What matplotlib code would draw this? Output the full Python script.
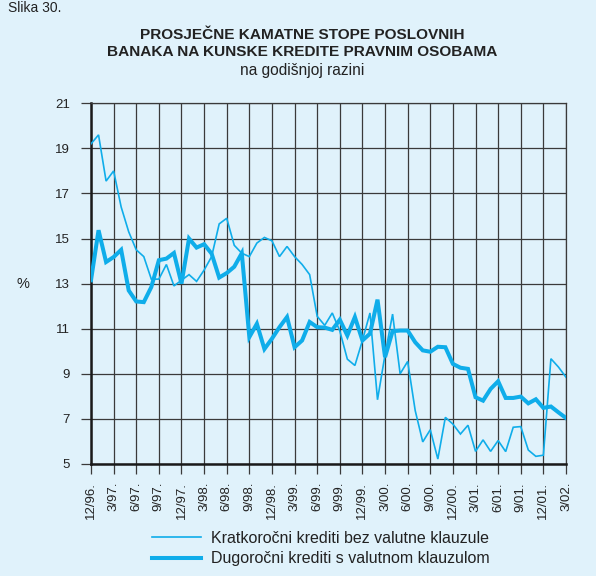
import numpy as np
import matplotlib
matplotlib.use('Agg')
import matplotlib.pyplot as plt

# monthly data, 12/96 .. 3/02
kratkorocni = [19.2, 19.6, 17.55, 18.0, 16.4, 15.3, 14.5, 14.2, 13.2, 13.2,
               13.85, 12.9, 13.15, 13.4, 13.1, 13.6, 14.2, 15.65, 15.9, 14.7,
               14.35, 14.2, 14.8, 15.05, 14.9, 14.2, 14.65, 14.2, 13.85, 13.4,
               11.55, 11.15, 11.7, 10.9, 9.65, 9.37, 10.48, 11.7, 7.85, 9.85,
               11.65, 9.0, 9.55, 7.37, 5.98, 6.52, 5.22, 7.07, 6.77, 6.33,
               6.72, 5.56, 6.07, 5.56, 6.04, 5.55, 6.63, 6.66, 5.62, 5.34,
               5.39, 9.67, 9.3, 8.85]
dugorocni = [13.15, 15.37, 13.96, 14.18, 14.5, 12.7, 12.21, 12.18, 12.85, 14.04,
             14.11, 14.36, 13.0, 15.0, 14.6, 14.75, 14.33, 13.27, 13.47, 13.75,
             14.35, 10.63, 11.22, 10.1, 10.56, 11.07, 11.52, 10.18, 10.48, 11.3,
             11.07, 11.05, 10.95, 11.4, 10.7, 11.52, 10.48, 10.78, 12.29, 9.74,
             10.89, 10.92, 10.92, 10.4, 10.04, 9.98, 10.2, 10.18, 9.44, 9.27,
             9.22, 7.96, 7.81, 8.33, 8.67, 7.93, 7.93, 7.99, 7.69, 7.87,
             7.49, 7.55, 7.29, 7.04]
tick_labels = ['12/96.', '3/97.', '6/97.', '9/97.', '12/97.', '3/98.', '6/98.', '9/98.',
               '12/98.', '3/99.', '6/99.', '9/99.', '12/99.', '3/00.', '6/00.', '9/00.',
               '12/00.', '3/01.', '6/01.', '9/01.', '12/01.', '3/02.']
y_ticks = [5, 7, 9, 11, 13, 15, 17, 19, 21]

bg = '#E0F2FB'
blue = '#0FADEA'
grid_c = '#3a3a3a'
txt_c = '#222222'
plt.rcParams['font.family'] = ['Liberation Sans', 'DejaVu Sans']

fig = plt.figure(figsize=(5.96, 5.76), dpi=100, facecolor=bg)
ax = fig.add_axes([91/596, 1-464/576, 475/596, (464-103.3)/576])
ax.set_facecolor(bg)

x = np.arange(len(kratkorocni))
ax.plot(x, kratkorocni, color=blue, lw=1.2, label='Kratkoročni krediti bez valutne klauzule',
        solid_joinstyle='miter', zorder=3)
ax.plot(x, dugorocni, color=blue, lw=2.9, label='Dugoročni krediti s valutnom klauzulom',
        solid_joinstyle='miter', zorder=4)

ax.set_xlim(0, 63)
ax.set_ylim(5, 21)
ax.set_xticks(np.arange(0, 64, 3))
ax.set_xticklabels(tick_labels, rotation=90, fontsize=9.5, color=txt_c)
ax.set_yticks(y_ticks)
ax.set_yticklabels([str(v) for v in y_ticks], fontsize=9.5, color=txt_c)
ax.tick_params(axis='both', length=7, width=0.9, color=grid_c, direction='out')
ax.tick_params(axis='y', pad=8)
ax.tick_params(axis='x', pad=6)
ax.grid(True, color=grid_c, lw=0.9, zorder=1)
ax.set_axisbelow(True)
for s in ['top', 'right']:
    ax.spines[s].set_color(grid_c)
    ax.spines[s].set_linewidth(0.9)
for s in ['left', 'bottom']:
    ax.spines[s].set_color('#1a1a1a')
    ax.spines[s].set_linewidth(1.8)

fig.text(23/596, 1-284/576, '%', fontsize=10.5, ha='center', va='center', color=txt_c)

fig.text(302/596, 1-35/576, 'PROSJEČNE KAMATNE STOPE POSLOVNIH', fontsize=11.1,
         fontweight='bold', ha='center', va='center', color=txt_c)
fig.text(302/596, 1-52/576, 'BANAKA NA KUNSKE KREDITE PRAVNIM OSOBAMA', fontsize=11.1,
         fontweight='bold', ha='center', va='center', color=txt_c)
fig.text(302/596, 1-70/576, 'na godišnjoj razini', fontsize=11.2,
         ha='center', va='center', color=txt_c)
fig.text(8/596, 1-1/576, 'Slika 30.', fontsize=10, ha='left', va='top', color=txt_c)

fig.legend(loc='upper left', bbox_to_anchor=(152/596, 1-531/576), frameon=False,
           fontsize=11.5, handlelength=3.07, handletextpad=0.63, labelspacing=0.32,
           borderpad=0, borderaxespad=0, labelcolor=txt_c)

fig.savefig('out.png', dpi=100, facecolor=bg)
